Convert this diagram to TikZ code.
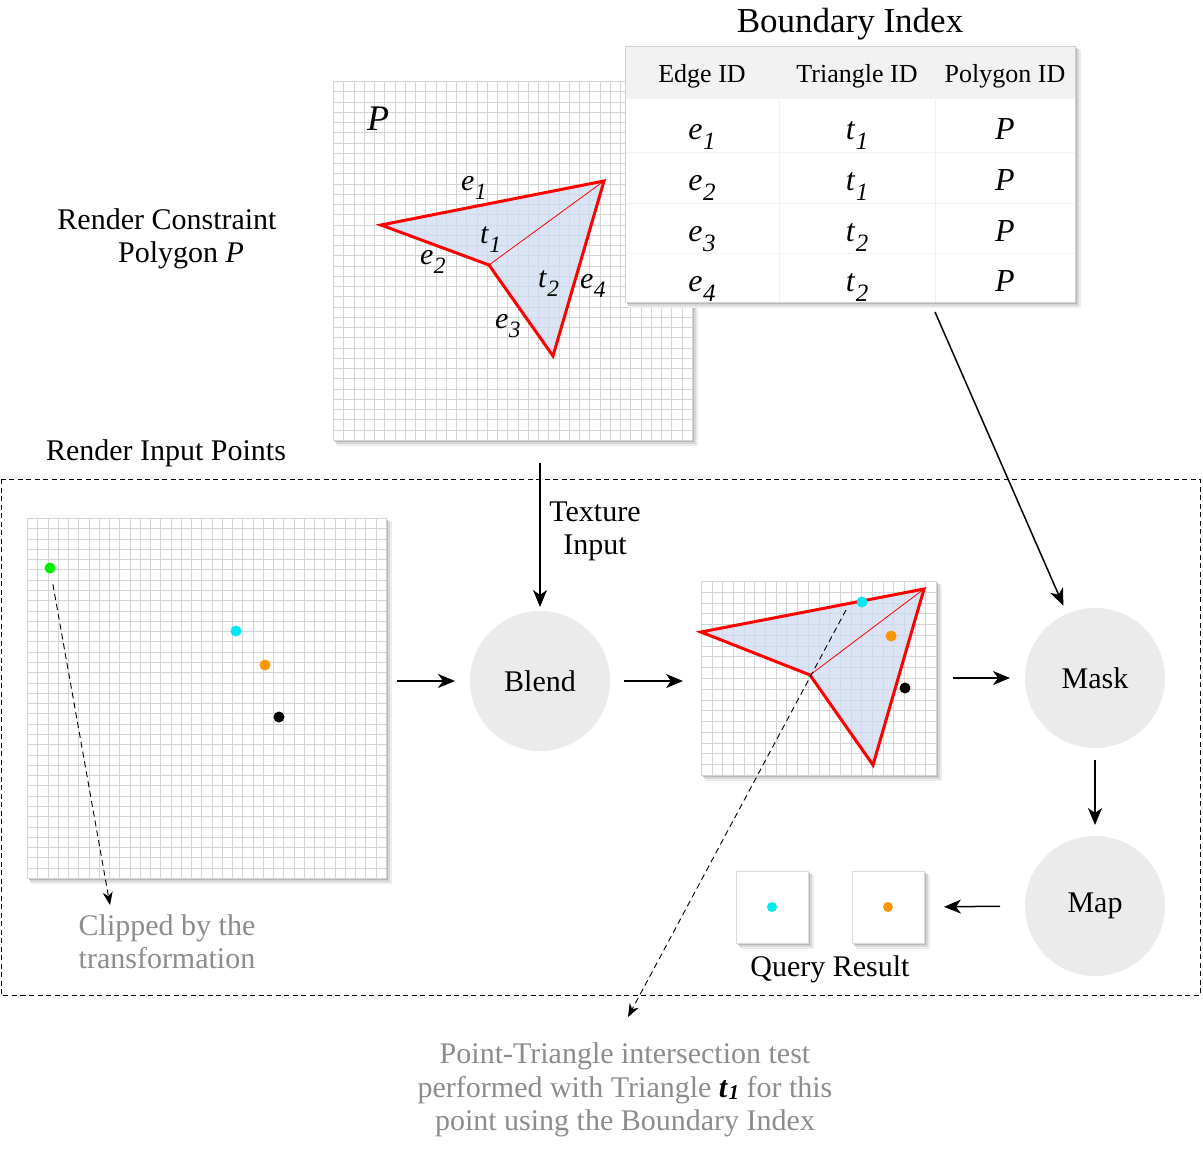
\documentclass[tikz,border=0pt]{standalone}
\usepackage{fontspec}
\usepackage{graphicx}
\setmainfont{Liberation Serif}
\usetikzlibrary{arrows.meta}
\definecolor{trifill}{HTML}{CEDBF2}
\definecolor{circfill}{HTML}{EBEBEB}
\definecolor{hdrfill}{HTML}{F2F2F2}
\definecolor{txtgray}{HTML}{8C8C8C}
\definecolor{ptgreen}{HTML}{00EE00}
\definecolor{ptcyan}{HTML}{00E8F0}
\definecolor{ptorange}{HTML}{FF9500}
\newcommand{\isub}[2]{\textit{#1}\kern0.5pt\raisebox{-0.32em}{\scalebox{0.78}{\textit{#2}}}}
\newcommand{\fs}[1]{\fontsize{#1}{#1}\selectfont}
% shadowed white rectangle: x0 y0 x1 y1
\newcommand{\shbox}[4]{%
  \fill[black!7] (#1+4,#2+4) rectangle (#3+6,#4+6);
  \fill[black!16] (#1+3,#2+3) rectangle (#3+4,#4+4);
  \fill[black!28] (#1+2,#2+2) rectangle (#3+2,#4+2);
  \fill[white] (#1,#2) rectangle (#3,#4);}
% grid: x0 y0 x1 y1 ncols nrows
\newcommand{\drawgrid}[6]{%
  \shbox{#1}{#2}{#3}{#4}
  \foreach \i in {0,...,#5} {\draw[gridln] ({round(#1+(#3-#1)*\i/#5)+0.5},#2) -- ({round(#1+(#3-#1)*\i/#5)+0.5},#4);}
  \foreach \j in {0,...,#6} {\draw[gridln] (#1,{round(#2+(#4-#2)*\j/#6)+0.5}) -- (#3,{round(#2+(#4-#2)*\j/#6)+0.5});}}
\begin{document}
\begin{tikzpicture}[x=1pt,y=-1pt,
  every node/.style={inner sep=0pt, outer sep=0pt},
  txt/.style={font=\fs{30}, anchor=base},
  gtxt/.style={txt, text=txtgray},
  gridln/.style={draw=black!17, line width=1.2pt},
  arr/.style={draw=black, line width=1.5pt, -{Stealth[length=17pt,width=14pt,inset=5pt]}},
  dasharr/.style={draw=black, line width=0.9pt, dash pattern=on 6pt off 4pt, -{Stealth[length=13pt,width=10pt,inset=4pt]}},
  proc/.style={circle, fill=circfill, minimum size=140pt, font=\fs{30}},
  poly/.style={draw=red, line width=3pt, line join=miter},
  diag/.style={draw=red, line width=0.8pt},
  ptdot/.style={circle, minimum size=11pt, fill=#1},
  hdr/.style={font=\fs{26}, anchor=base},
  cell/.style={font=\fs{32}, anchor=base},
  lbl/.style={font=\fs{30}, anchor=base west}
]
\useasboundingbox (0,0) rectangle (1203,1162);

% ---------- top grid with polygon ----------
\drawgrid{333}{81}{692}{440}{35}{35}
\node[minimum width=359pt, minimum height=359pt] (g0) at (512.5,260.5) {};
\fill[trifill, fill opacity=0.75] (381,225) -- (604,181) -- (553,356) -- (489,265) -- cycle;
\draw[diag] (489,265) -- (604,181);
\draw[poly] (381,225) -- (604,181) -- (553,356) -- (489,265) -- cycle;
\node[font=\fs{36}\itshape, anchor=base] (pP) at (378,130) {P};
\node[lbl] (le1) at (461,190) {\isub{e}{1}};
\node[lbl] (lt1) at (480,243) {\isub{t}{1}};
\node[lbl] (le2) at (420,264) {\isub{e}{2}};
\node[lbl] (lt2) at (538,287) {\isub{t}{2}};
\node[lbl] (le4) at (580,288) {\isub{e}{4}};
\node[lbl] (le3) at (495,328) {\isub{e}{3}};

% ---------- boundary index table ----------
\node[font=\fs{35}, anchor=base] (title) at (850,32) {Boundary Index};
\shbox{625}{46}{1075}{302}
\node[minimum width=450pt, minimum height=256pt] (tbl) at (850,174) {};
\fill[hdrfill] (625,46) rectangle (1075,99);
\foreach \y in {152,203,253} \draw[black!5, line width=1pt] (625,\y) -- (1075,\y);
\foreach \x in {779,935} \draw[black!6, line width=1pt] (\x,46) -- (\x,302);
\draw[black!18, line width=0.6pt] (625,46) rectangle (1075,302);
\node[hdr] (h1) at (702,82) {Edge ID};
\node[hdr] (h2) at (857,82) {Triangle ID};
\node[hdr] (h3) at (1005,82) {Polygon ID};
\node[cell] (c11) at (702,139) {\isub{e}{1}};
\node[cell] (c12) at (857,139) {\isub{t}{1}};
\node[cell] (c13) at (1005,139) {\textit{P}};
\node[cell] (c21) at (702,190) {\isub{e}{2}};
\node[cell] (c22) at (857,190) {\isub{t}{1}};
\node[cell] (c23) at (1005,190) {\textit{P}};
\node[cell] (c31) at (702,241) {\isub{e}{3}};
\node[cell] (c32) at (857,241) {\isub{t}{2}};
\node[cell] (c33) at (1005,241) {\textit{P}};
\node[cell] (c41) at (702,291) {\isub{e}{4}};
\node[cell] (c42) at (857,291) {\isub{t}{2}};
\node[cell] (c43) at (1005,291) {\textit{P}};
\coordinate (tblarr) at (935,312);

% ---------- side labels ----------
\node[txt] (rc1) at (167,229) {Render Constraint};
\node[txt] (rc2) at (181,262) {Polygon \textit{P}};
\node[txt] (rip) at (166,460) {Render Input Points};

% ---------- dashed frame ----------
\draw[black, line width=0.8pt, dash pattern=on 5pt off 3.5pt] (1,479) rectangle (1200,995);

% ---------- left grid with points ----------
\drawgrid{27}{518}{386}{878}{35}{35}
\node[minimum width=359pt, minimum height=360pt] (g1) at (206.5,698) {};
\node[ptdot=ptgreen] (pg) at (50,568) {};
\node[ptdot=ptcyan] (pc) at (236,631) {};
\node[ptdot=ptorange] (po) at (265,665) {};
\node[ptdot=black] (pk) at (279,717) {};
\coordinate (clipend) at (110,905);
\draw[dasharr, shorten <=11pt] (pg) -- (clipend);
\node[gtxt] (cl1) at (167,935) {Clipped by the};
\node[gtxt] (cl2) at (167,968) {transformation};

% ---------- blend ----------
\node[proc] (blend) at (540,681) {Blend};
\draw[arr, shorten <=11pt, shorten >=15pt] (g1.east |- blend.west) -- (blend.west);
\draw[arr, shorten <=23pt, shorten >=4pt] (blend.north |- g0.south) -- (blend.north);
\node[txt] (tx1) at (595,521) {Texture};
\node[txt] (tx2) at (595,554) {Input};

% ---------- small grid ----------
\drawgrid{701}{581}{936}{775}{22}{18}
\node[minimum width=235pt, minimum height=194pt] (g2) at (818.5,678) {};
\fill[trifill, fill opacity=0.75] (701,632) -- (924,589) -- (873,765) -- (810,675) -- cycle;
\draw[diag] (810,675) -- (924,589);
\draw[poly] (701,632) -- (924,589) -- (873,765) -- (810,675) -- cycle;
\node[ptdot=ptcyan] (sc) at (862,602) {};
\node[ptdot=ptorange] (so) at (891,636) {};
\node[ptdot=black] (sk) at (905,688) {};
\draw[arr, shorten <=14pt, shorten >=18pt] (blend.east) -- (g2.west |- blend.east);
\coordinate (qs) at (846,610);
\coordinate (qe) at (628,1017);
\draw[dasharr] (qs) -- (qe);

% ---------- mask / map ----------
\node[proc] (mask) at (1095,678) {Mask};
\node[proc] (map) at (1095,906) {Map};
\draw[arr, shorten <=17pt, shorten >=15pt] (g2.east |- mask.west) -- (mask.west);
\draw[arr, shorten >=9pt] (tblarr) -- (mask);
\draw[arr, shorten <=12pt, shorten >=11pt] (mask.south) -- (map.north);

% ---------- query result ----------
\shbox{852}{871}{924}{943}
\draw[black!14, line width=0.8pt] (852,871) rectangle (924,943);
\node[minimum width=72pt, minimum height=72pt] (q2) at (888,907) {};
\shbox{736}{871}{808}{943}
\draw[black!14, line width=0.8pt] (736,871) rectangle (808,943);
\node[minimum width=72pt, minimum height=72pt] (q1) at (772,907) {};
\node[ptdot=ptcyan, minimum size=10pt] (qc) at (772,907) {};
\node[ptdot=ptorange, minimum size=10pt] (qo) at (888,907) {};
\draw[arr, shorten <=25pt, shorten >=20pt] (map.west) -- (q2.east);
\node[txt] (qr) at (830,976) {Query Result};

% ---------- bottom note ----------
\node[gtxt] (n1) at (625,1063) {Point-Triangle intersection test};
\node[gtxt] (n2) at (625,1097) {performed with Triangle \textcolor{black}{\bfseries\textit{t}\kern0.5pt\smash{\raisebox{-0.08em}{\scalebox{0.7}{\textit{1}}}}} for this};
\node[gtxt] (n3) at (625,1130) {point using the Boundary Index};
\end{tikzpicture}
\end{document}
